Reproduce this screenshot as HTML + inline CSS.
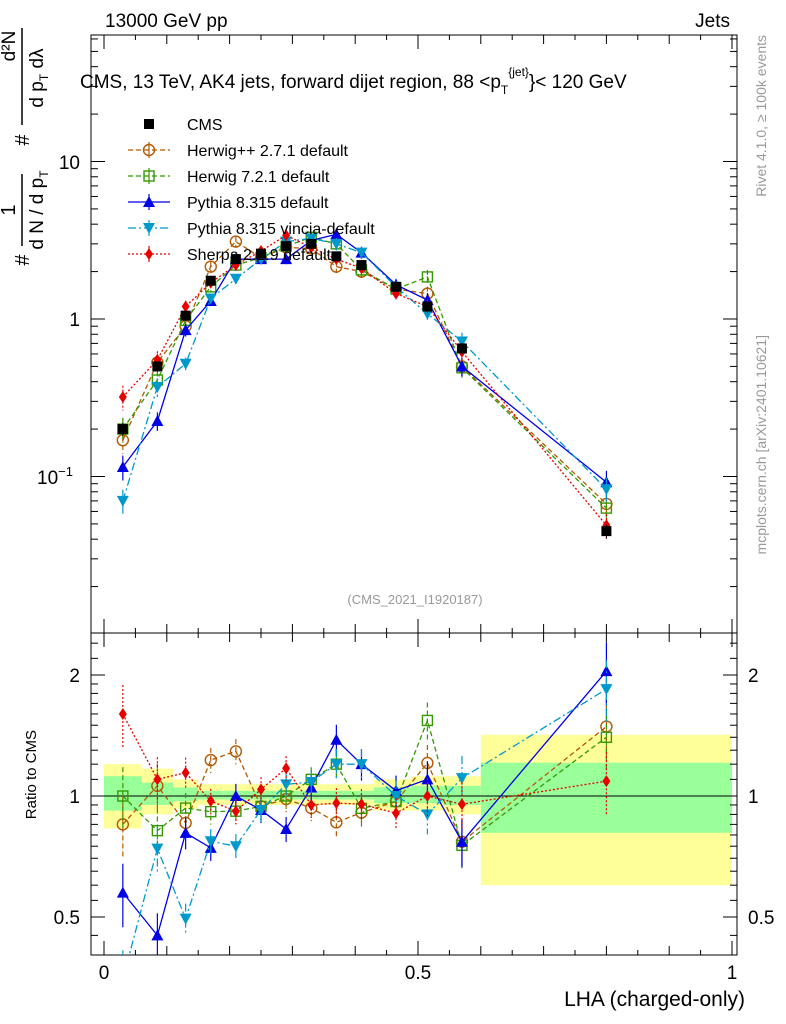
<!DOCTYPE html>
<html><head><meta charset="utf-8"><style>
body{margin:0;background:#fff}
svg{display:block;font-family:"Liberation Sans",sans-serif}
</style></head><body>
<svg id="c" width="786" height="1024" viewBox="0 0 786 1024"></svg>
<script>
const lha = [0.03,0.085,0.13,0.17,0.21,0.25,0.29,0.33,0.37,0.41,0.465,0.515,0.57,0.8];
const binEdges = [0,0.06,0.11,0.15,0.19,0.23,0.27,0.31,0.35,0.39,0.43,0.49,0.54,0.6,1.0];
const cms = [0.2,0.5,1.05,1.75,2.4,2.6,2.9,3.0,2.5,2.2,1.6,1.2,0.65,0.045];
const herwigpp = [0.17,0.53,0.9,2.15,3.1,2.45,2.85,2.8,2.15,2.0,1.55,1.45,0.5,0.067];
const herwig7 = [0.2,0.41,0.98,1.6,2.2,2.45,2.9,3.3,3.0,2.05,1.55,1.85,0.49,0.063];
const pythia = [0.115,0.225,0.85,1.3,2.4,2.4,2.4,3.15,3.45,2.64,1.65,1.32,0.5,0.092];
const vincia = [0.07,0.37,0.52,1.35,1.8,2.4,3.1,3.25,3.0,2.64,1.6,1.08,0.72,0.083];
const sherpa = [0.32,0.55,1.2,1.7,2.2,2.7,3.4,2.85,2.4,2.1,1.45,1.2,0.62,0.049];
const relErr = [0.2,0.15,0.1,0.08,0.08,0.08,0.08,0.08,0.1,0.1,0.1,0.12,0.15,0.2];
const bandYellowLo = [0.83,0.9,0.93,0.95,0.95,0.95,0.95,0.95,0.95,0.95,0.92,0.92,0.9,0.6];
const bandYellowHi = [1.2,1.17,1.1,1.07,1.07,1.07,1.07,1.07,1.07,1.07,1.1,1.12,1.12,1.42];
const bandGreenLo = [0.92,0.95,0.97,0.98,0.98,0.98,0.98,0.98,0.98,0.98,0.96,0.96,0.95,0.81];
const bandGreenHi = [1.12,1.08,1.05,1.03,1.03,1.03,1.03,1.03,1.03,1.03,1.05,1.06,1.06,1.21];

const svg=document.getElementById('c');
const NS='http://www.w3.org/2000/svg';
function el(t,a,p){const e=document.createElementNS(NS,t);for(const k in a)e.setAttribute(k,a[k]);(p||svg).appendChild(e);return e;}
const X0=91,X1=737,MT=35,MB=633,RB=955;
const xs=v=>104+v*628;
const ym=v=>319-157.5*Math.log10(v);
const yr=v=>796-121*Math.log2(v);

for(let i=0;i<lha.length;i++){
  const a=xs(binEdges[i]),b=xs(binEdges[i+1]);
  let r=el('rect',{x:a,y:yr(bandYellowHi[i]),width:b-a,height:yr(bandYellowLo[i])-yr(bandYellowHi[i]),fill:'#ffff99'});
  
  r=el('rect',{x:a,y:yr(bandGreenHi[i]),width:b-a,height:yr(bandGreenLo[i])-yr(bandGreenHi[i]),fill:'#99ff99'});
  
}
el('line',{x1:X0,x2:X1,y1:yr(1),y2:yr(1),stroke:'#000'});

el('rect',{x:X0,y:MT,width:X1-X0,height:MB-MT,fill:'none',stroke:'#000'});
el('rect',{x:X0,y:MB,width:X1-X0,height:RB-MB,fill:'none',stroke:'#000'});

for(let k=0;k<=20;k++){
  const v=k*0.05,x=xs(v),L=(k%10==0)?14:(k%2==0?9:5);
  for(const [t,b] of [[MT,MB],[MB,RB]]){
    el('line',{x1:x,x2:x,y1:b,y2:b-L,stroke:'#000'});
    el('line',{x1:x,x2:x,y1:t,y2:t+L,stroke:'#000'});
  }
}
[[0,'0'],[0.5,'0.5'],[1,'1']].forEach(([v,s])=>{
  const t=el('text',{x:xs(v),y:979,'font-size':19,'text-anchor':'middle'});t.textContent=s;
  
});
for(let d=-2;d<=1;d++)for(let m=1;m<10;m++){
  const v=m*Math.pow(10,d),y=ym(v);if(y<MT||y>MB)continue;
  const L=m==1?14:7;
  el('line',{x1:X0,x2:X0+L,y1:y,y2:y,stroke:'#000'});
  el('line',{x1:X1,x2:X1-L,y1:y,y2:y,stroke:'#000'});
}
let t=el('text',{x:80,y:169,'font-size':19,'text-anchor':'end'});t.textContent='10';
t=el('text',{x:80,y:326,'font-size':19,'text-anchor':'end'});t.textContent='1';
t=el('text',{x:73,y:484,'font-size':19,'text-anchor':'end'});t.innerHTML='10<tspan dy="-8" font-size="13">−1</tspan>';
[0.4,0.45,0.5,0.55,0.6,0.65,0.7,0.75,0.8,0.85,0.9,0.95,1,1.1,1.2,1.3,1.4,1.5,1.6,1.7,1.8,1.9,2,2.2,2.4].forEach(v=>{
  const y=yr(v);if(y<MB||y>RB)return;const L=(v==0.5||v==1||v==2)?14:7;
  el('line',{x1:X0,x2:X0+L,y1:y,y2:y,stroke:'#000'});
  el('line',{x1:X1,x2:X1-L,y1:y,y2:y,stroke:'#000'});
});
[[0.5,'0.5'],[1,'1'],[2,'2']].forEach(([v,s])=>{
  let a=el('text',{x:80,y:yr(v)+7,'font-size':19,'text-anchor':'end'});a.textContent=s;
  a=el('text',{x:748,y:yr(v)+7,'font-size':19});a.textContent=s;
});

const series=[
 {d:herwigpp,c:'#b35900',dash:'5,3',m:'circle',name:'herwigpp'},
 {d:herwig7,c:'#339900',dash:'5,3',m:'square',name:'herwig7'},
 {d:pythia,c:'#0000e6',dash:'',m:'tri',name:'pythia'},
 {d:vincia,c:'#0099cc',dash:'8,3,2,3',m:'tridown',name:'vincia'},
 {d:sherpa,c:'#e60000',dash:'2,2',m:'diamond',name:'sherpa'},
];
function marker(m,x,y,c,g){
  if(m=='circle')return el('circle',{cx:x,cy:y,r:5.5,fill:'none',stroke:c,'stroke-width':1.4},g);
  if(m=='square')return el('rect',{x:x-5,y:y-5,width:10,height:10,fill:'none',stroke:c,'stroke-width':1.4},g);
  if(m=='tri')return el('polygon',{points:`${x},${y-6} ${x-6},${y+5} ${x+6},${y+5}`,fill:c},g);
  if(m=='tridown')return el('polygon',{points:`${x},${y+6} ${x-6},${y-5} ${x+6},${y-5}`,fill:c},g);
  if(m=='diamond')return el('polygon',{points:`${x},${y-6} ${x-4},${y} ${x},${y+6} ${x+4},${y}`,fill:c},g);
  if(m=='sq')return el('rect',{x:x-5,y:y-5,width:10,height:10,fill:c},g);
}
const clipM=el('clipPath',{id:'cm'});el('rect',{x:X0,y:MT,width:X1-X0,height:MB-MT},clipM);
const clipR=el('clipPath',{id:'cr'});el('rect',{x:X0,y:MB,width:X1-X0,height:RB-MB},clipR);
series.forEach(s=>{
  for(const [panel,yf,val] of [['main',ym,i=>s.d[i]],['ratio',yr,i=>s.d[i]/cms[i]]]){
    const g=el('g',{'clip-path':panel=='main'?'url(#cm)':'url(#cr)'});
    
    
    el('polyline',{points:lha.map((x,i)=>xs(x)+','+yf(val(i))).join(' '),fill:'none',stroke:s.c,'stroke-width':1.3,'stroke-dasharray':s.dash},g);
    lha.forEach((x,i)=>{
      const v=val(i),e=relErr[i]*0.9;
      el('line',{x1:xs(x),x2:xs(x),y1:yf(v*(1+e)),y2:yf(v*(1-e)),stroke:s.c,'stroke-width':1.2,'stroke-dasharray':s.dash},g);
      marker(s.m,xs(x),yf(v),s.c,g);
    });
  }
});
const gd=el('g',{});
lha.forEach((x,i)=>{
  el('line',{x1:xs(x),x2:xs(x),y1:ym(cms[i]*(1+relErr[i]*0.5)),y2:ym(cms[i]*(1-relErr[i]*0.5)),stroke:'#000'},gd);
  marker('sq',xs(x),ym(cms[i]),'#000',gd);
});

const leg=[['CMS','#000','','sq'],['Herwig++ 2.7.1 default','#b35900','5,3','circle'],['Herwig 7.2.1 default','#339900','5,3','square'],['Pythia 8.315 default','#0000e6','','tri'],['Pythia 8.315 vincia-default','#0099cc','8,3,2,3','tridown'],['Sherpa 2.2.9 default','#e60000','2,2','diamond']];
leg.forEach((l,i)=>{
  const y=124+i*26;const g=el('g',{});
  
  if(i>0)el('line',{x1:128,x2:170,y1:y,y2:y,stroke:l[1],'stroke-width':1.3,'stroke-dasharray':l[2]},g);
  if(i>0)el('line',{x1:149,x2:149,y1:y-8,y2:y+8,stroke:l[1],'stroke-width':1.2},g);
  marker(l[3],149,y,l[1],g);
  const tx=el('text',{x:187,y:y+6,'font-size':16},g);tx.textContent=l[0];
});

function txt(s,a,name,p){const e=el('text',a,p);e.innerHTML=s;return e;}
txt('13000 GeV pp',{x:105,y:27,'font-size':19},'energy-label');
txt('Jets',{x:730,y:27,'font-size':19,'text-anchor':'end'},'process-label');
txt('CMS, 13 TeV, AK4 jets, forward dijet region, 88 &lt;p<tspan dy="6" font-size="12">T</tspan><tspan dy="-18" font-size="12">{jet}</tspan><tspan dy="12">}&lt; 120 GeV</tspan>',{x:80,y:88,'font-size':19},'plot-title');
txt('(CMS_2021_I1920187)',{x:415,y:604,'font-size':13,fill:'#999','text-anchor':'middle'},'analysis-id');
txt('LHA (charged-only)',{x:745,y:1006,'font-size':21,'text-anchor':'end'},'x-axis-title');
txt('Ratio to CMS',{x:0,y:0,'font-size':15,'text-anchor':'end',transform:'translate(36,730) rotate(-90)'},'ratio-y-title');
txt('Rivet 4.1.0, ≥ 100k events',{x:0,y:0,'font-size':14,fill:'#999','text-anchor':'end',transform:'translate(766,35) rotate(-90)'},'rivet-label');
txt('mcplots.cern.ch [arXiv:2401.10621]',{x:0,y:0,'font-size':14,fill:'#999','text-anchor':'end',transform:'translate(766,335) rotate(-90)'},'mcplots-label');
const yg=el('g',{transform:'translate(0,290) rotate(-90)'});

txt('#',{x:30,y:29,'font-size':20,'text-anchor':'middle'},'y-title-hash',yg);
el('line',{x1:44,x2:116,y1:22,y2:22,stroke:'#000','stroke-width':1.5},yg);
txt('1',{x:80,y:15,'font-size':20,'text-anchor':'middle'},'y-title-one',yg);
txt('d N / d p<tspan font-size="12" dy="5">T</tspan>',{x:80,y:43,'font-size':19,'text-anchor':'middle'},'y-title-den1',yg);
txt('#',{x:150,y:29,'font-size':20,'text-anchor':'middle'},'y-title-hash2',yg);
el('line',{x1:165,x2:262,y1:22,y2:22,stroke:'#000','stroke-width':1.5},yg);
txt('d²N',{x:244,y:15,'font-size':19,'text-anchor':'middle'},'y-title-num2',yg);
txt('d p<tspan font-size="12" dy="5">T</tspan><tspan dy="-5"> dλ</tspan>',{x:212,y:43,'font-size':19,'text-anchor':'middle'},'y-title-den2',yg);
</script>
</body></html>
